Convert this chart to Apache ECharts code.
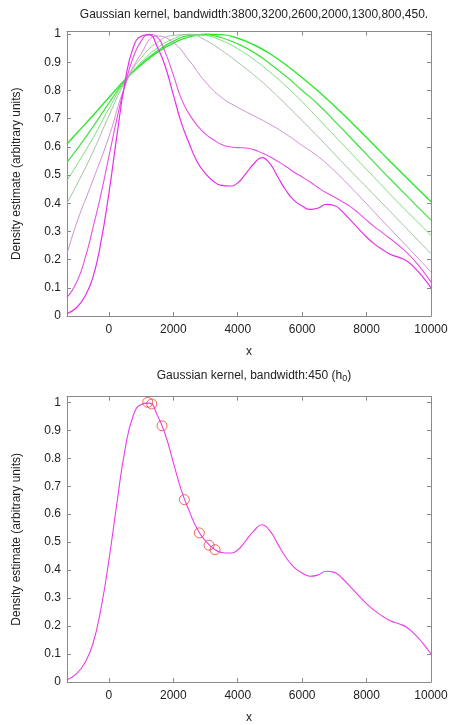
<!DOCTYPE html>
<html>
<head>
<meta charset="utf-8">
<script src="https://cdn.jsdelivr.net/npm/echarts@6/dist/echarts.min.js"></script>
<style>
  html, body { margin: 0; padding: 0; background: #fff; }
  #main { width: 452px; height: 725px; }
</style>
</head>
<body>
<div id="main"></div>
<script>
// x grids (coarse for wide kernels, fine for the narrow ones)
const xsCoarse = [-1300, -1000, -500, 0, 500, 1000, 1500, 2000, 2500, 3000, 3500, 4000,
  4500, 5000, 5500, 6000, 6500, 7000, 7500, 8000, 8500, 9000, 9500, 10000];
const xsFine = [-1300, -1000, -750, -500, -250, 0, 250, 500, 750, 1000, 1250, 1500, 1750,
  2000, 2250, 2500, 2750, 3000, 3250, 3500, 3750, 4000, 4250, 4500, 4750, 5000, 5250,
  5500, 5750, 6000, 6250, 6500, 6750, 7000, 7250, 7500, 7750, 8000, 8250, 8500, 8750,
  9000, 9250, 9500, 9750, 10000];

// density estimates, normalised to 1
const bw3800 = [0.61, 0.648, 0.71, 0.775, 0.838, 0.89, 0.935, 0.968, 0.99, 0.999, 0.998, 0.985,
  0.962, 0.93, 0.89, 0.845, 0.797, 0.745, 0.69, 0.633, 0.575, 0.518, 0.461, 0.405];
const bw3200 = [0.545, 0.59, 0.67, 0.755, 0.835, 0.895, 0.94, 0.975, 0.995, 0.998, 0.987, 0.965,
  0.935, 0.895, 0.85, 0.80, 0.75, 0.692, 0.633, 0.573, 0.513, 0.455, 0.397, 0.34];
const bw2600 = [0.48, 0.535, 0.63, 0.735, 0.832, 0.9, 0.95, 0.983, 0.999, 0.995, 0.977, 0.948,
  0.91, 0.865, 0.815, 0.76, 0.70, 0.64, 0.58, 0.52, 0.46, 0.40, 0.343, 0.286];
const bw2000 = [0.40, 0.465, 0.58, 0.71, 0.83, 0.915, 0.97, 0.995, 0.998, 0.978, 0.942, 0.90,
  0.855, 0.805, 0.75, 0.693, 0.635, 0.575, 0.515, 0.457, 0.398, 0.339, 0.28, 0.221];
const bw1300 = [0.22, 0.33, 0.48, 0.635, 0.815, 0.93, 0.993, 0.97, 0.905, 0.83, 0.775, 0.74,
  0.71, 0.68, 0.645, 0.605, 0.565, 0.515, 0.458, 0.398, 0.337, 0.277, 0.217, 0.156];
const bw800 = [0.065, 0.12, 0.2, 0.31, 0.43, 0.565, 0.70, 0.82, 0.915, 0.975, 0.999, 0.99, 0.935,
  0.855, 0.77, 0.715, 0.675, 0.645, 0.625, 0.608, 0.6, 0.597, 0.596, 0.59, 0.578, 0.565, 0.548,
  0.53, 0.51, 0.493, 0.475, 0.455, 0.437, 0.422, 0.405, 0.388, 0.365, 0.34, 0.316, 0.295, 0.273,
  0.25, 0.225, 0.195, 0.16, 0.12];
const bw450 = [0.008, 0.03, 0.068, 0.135, 0.26, 0.435, 0.64, 0.83, 0.95, 0.992, 0.997, 0.955, 0.885,
  0.785, 0.685, 0.61, 0.545, 0.505, 0.477, 0.463, 0.461, 0.472, 0.505, 0.54, 0.562, 0.54, 0.492,
  0.445, 0.41, 0.39, 0.378, 0.383, 0.396, 0.392, 0.37, 0.34, 0.31, 0.28, 0.255, 0.235, 0.218,
  0.208, 0.195, 0.17, 0.138, 0.10];

// sample points marked on the h0 curve
const markX = [1206, 1330, 1650, 2343, 2809, 3110, 3296];
const markY = [1.0, 0.994, 0.916, 0.652, 0.533, 0.489, 0.473];

const xTicks = [0, 2000, 4000, 6000, 8000, 10000];
const yTicks = [0, 0.1, 0.2, 0.3, 0.4, 0.5, 0.6, 0.7, 0.8, 0.9, 1];

const font = 'Liberation Sans, Arial, sans-serif';
const axisGray = '#8a8a8a';

const pairs = (xs, ys) => xs.map((x, i) => [x, ys[i]]);

function xAxes(gridIndex) {
  const base = {
    type: 'value', gridIndex, min: -1300, max: 10000,
    splitLine: { show: false },
    axisLine: { show: true, onZero: false, lineStyle: { color: axisGray, width: 1 } },
    axisTick: { show: true, inside: true, length: 4, customValues: xTicks,
      lineStyle: { color: axisGray } },
  };
  return [
    Object.assign({}, base, {
      position: 'bottom',
      name: 'x', nameLocation: 'middle', nameGap: 30,
      nameTextStyle: { fontFamily: font, fontSize: 12, color: '#222' },
      axisLabel: { customValues: xTicks, margin: 8, fontFamily: font, fontSize: 12, color: '#222',
        formatter: (v) => String(v) },
    }),
    Object.assign({}, base, { position: 'top', axisLabel: { show: false } }),
  ];
}

function yAxes(gridIndex, ymax) {
  const base = {
    type: 'value', gridIndex, min: 0, max: ymax,
    splitLine: { show: false },
    axisLine: { show: true, onZero: false, lineStyle: { color: axisGray, width: 1 } },
    axisTick: { show: true, inside: true, length: 4, customValues: yTicks,
      lineStyle: { color: axisGray } },
  };
  return [
    Object.assign({}, base, {
      position: 'left',
      name: 'Density estimate (arbitrary units)', nameLocation: 'middle', nameGap: 44,
      nameRotate: 90,
      nameTextStyle: { fontFamily: font, fontSize: 12, color: '#222' },
      axisLabel: { customValues: yTicks, margin: 6, fontFamily: font, fontSize: 12, color: '#222',
        formatter: (v) => String(v) },
    }),
    Object.assign({}, base, { position: 'right', axisLabel: { show: false } }),
  ];
}

function curve(name, xs, ys, color, width, xi, yi) {
  return {
    name, type: 'line', xAxisIndex: xi, yAxisIndex: yi,
    data: pairs(xs, ys), symbol: 'none', smooth: 0.5,
    lineStyle: { color, width }, silent: true, z: 3,
  };
}

const chart = echarts.init(document.getElementById('main'), null, { renderer: 'canvas' });

chart.setOption({
  animation: false,
  backgroundColor: '#fff',
  title: [
    { text: 'Gaussian kernel, bandwidth:3800,3200,2600,2000,1300,800,450.',
      left: 249, top: 4, textAlign: 'center',
      textStyle: { fontFamily: font, fontSize: 12, fontWeight: 'normal', color: '#222' } },
    { text: 'Gaussian kernel, bandwidth:450 (h{sub|0})',
      left: 249, top: 363, textAlign: 'center',
      textStyle: { fontFamily: font, fontSize: 12, fontWeight: 'normal', color: '#222',
        rich: { sub: { fontFamily: font, fontSize: 9, color: '#222', verticalAlign: 'bottom',
          padding: [6, 0, 0, 0] } } } },
  ],
  grid: [
    { left: 67, right: 21, top: 31.5, height: 284.5 },
    { left: 67, right: 21, top: 396.7, height: 286.3 },
  ],
  xAxis: [...xAxes(0), ...xAxes(1)],
  yAxis: [...yAxes(0, 1.009), ...yAxes(1, 1.02)],
  series: [
    curve('3800', xsCoarse, bw3800, '#2ee82e', 1.4, 0, 0),
    curve('3200', xsCoarse, bw3200, '#3fe23f', 1.2, 0, 0),
    curve('2600', xsCoarse, bw2600, '#7ade7a', 1, 0, 0),
    curve('2000', xsCoarse, bw2000, '#a2c2a2', 1, 0, 0),
    curve('1300', xsCoarse, bw1300, '#cf92cf', 1, 0, 0),
    curve('800', xsFine, bw800, '#e650e6', 1.1, 0, 0),
    curve('450', xsFine, bw450, '#e82ee8', 1.2, 0, 0),
    curve('450 h0', xsFine, bw450, '#ea3cea', 1.1, 2, 2),
    {
      name: 'points', type: 'scatter', xAxisIndex: 2, yAxisIndex: 2,
      data: pairs(markX, markY), symbol: 'circle', symbolSize: 10, silent: true, z: 4,
      itemStyle: { color: 'rgba(0,0,0,0)', borderColor: '#f04040', borderWidth: 1 },
    },
  ],
});
</script>
</body>
</html>
